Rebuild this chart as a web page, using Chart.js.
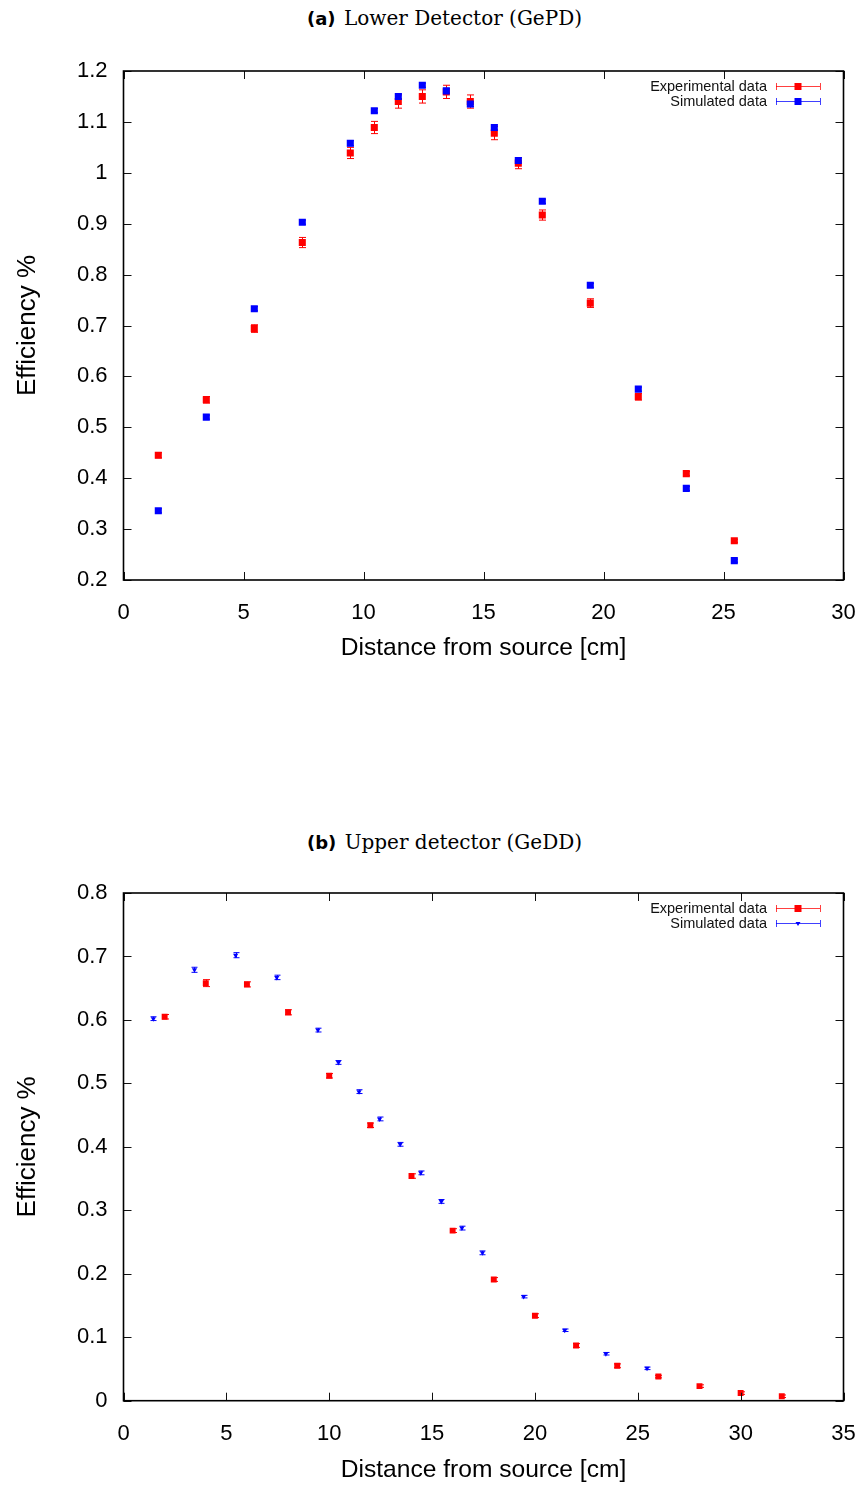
<!DOCTYPE html>
<html lang="en">
<head>
<meta charset="UTF-8">
<title>Detector efficiency</title>
<script src="https://cdn.jsdelivr.net/npm/chart.js@4.4.1/dist/chart.umd.min.js"></script>
<style>
  body { margin: 0; background: #fff; width: 865px; height: 1488px; position: relative; overflow: hidden; }
  .cap { position: absolute; left: 12px; width: 865px; text-align: center; font-family: "DejaVu Serif", serif; font-size: 20px; line-height: 22px; color: #000; }
  .cap b { font-family: "DejaVu Sans", sans-serif; font-weight: bold; font-size: 18px; margin-right: 2px; }
  canvas { position: absolute; left: 0; }
</style>
</head>
<body>
<div class="cap" style="top:7px"><b>(a)</b> Lower Detector (GePD)</div>
<canvas id="chartA" width="865" height="680" style="top:0"></canvas>
<div class="cap" style="top:831px"><b>(b)</b> Upper detector (GeDD)</div>
<canvas id="chartB" width="865" height="744" style="top:744px"></canvas>
<script>
// (a) lower detector - both series share the same distances
const xA = [1.45, 3.45, 5.45, 7.45, 9.45, 10.45, 11.45, 12.45, 13.45, 14.45, 15.45, 16.45, 17.45, 19.45, 21.45, 23.45, 25.45];
const expA = [0.445, 0.554, 0.694, 0.863, 1.039, 1.089, 1.140, 1.150, 1.159, 1.140, 1.078, 1.019, 0.917, 0.744, 0.560, 0.409, 0.277];
const expAErr = [0.005, 0.0065, 0.0075, 0.010, 0.011, 0.012, 0.013, 0.013, 0.013, 0.013, 0.013, 0.011, 0.010, 0.0085, 0.0065, 0.004, 0.003];
const simA = [0.336, 0.520, 0.733, 0.903, 1.058, 1.122, 1.150, 1.172, 1.161, 1.135, 1.089, 1.024, 0.944, 0.779, 0.575, 0.380, 0.238];
const simAErr = [0.004, 0.004, 0.004, 0.004, 0.005, 0.004, 0.005, 0.004, 0.005, 0.005, 0.005, 0.005, 0.004, 0.004, 0.004, 0.004, 0.003];

// (b) upper detector
const xBExp = [2, 4, 6, 8, 10, 12, 14, 16, 18, 20, 22, 24, 26, 28, 30, 32];
const expB = [0.605, 0.658, 0.656, 0.612, 0.512, 0.434, 0.354, 0.268, 0.191, 0.134, 0.087, 0.055, 0.038, 0.023, 0.012, 0.007];
const expBErr = [0.0035, 0.0055, 0.004, 0.004, 0.0035, 0.0035, 0.0035, 0.003, 0.003, 0.003, 0.003, 0.003, 0.002, 0.002, 0.002, 0.002];
const xBSim = [1.45, 3.45, 5.45, 7.45, 9.45, 10.45, 11.45, 12.45, 13.45, 14.45, 15.45, 16.45, 17.45, 19.45, 21.45, 23.45, 25.45];
const simB = [0.602, 0.679, 0.702, 0.667, 0.584, 0.533, 0.487, 0.444, 0.404, 0.359, 0.314, 0.272, 0.233, 0.164, 0.111, 0.074, 0.051];
const simBErr = [0.003, 0.004, 0.004, 0.0035, 0.003, 0.003, 0.003, 0.003, 0.003, 0.003, 0.003, 0.003, 0.003, 0.002, 0.002, 0.002, 0.002];

const legendLabels = ['Experimental data', 'Simulated data'];

Chart.defaults.font.family = '"Liberation Sans", Arial, sans-serif';
Chart.defaults.color = '#000';

function pts(xs, ys) {
  return xs.map((x, i) => ({ x: x, y: ys[i] }));
}

function marker(ctx, style, x, y, r) {
  ctx.beginPath();
  if (style === 'triangle') {
    ctx.moveTo(x - r, y - r * 0.6);
    ctx.lineTo(x + r, y - r * 0.6);
    ctx.lineTo(x, y + r);
    ctx.closePath();
  } else {
    ctx.rect(x - r, y - r, 2 * r, 2 * r);
  }
  ctx.fill();
}

// gnuplot look: error bars, framed box with inward ticks, legend top right
const gnuFrame = {
  id: 'gnuFrame',
  beforeDatasetsDraw(chart) {
    const ctx = chart.ctx, xs = chart.scales.x, ys = chart.scales.y;
    ctx.save();
    ctx.lineWidth = 1;
    chart.data.datasets.forEach(ds => {
      ctx.strokeStyle = ds.borderColor;
      ds.data.forEach((p, j) => {
        const e = ds.errors[j];
        const px = Math.round(xs.getPixelForValue(p.x)) + 0.5;
        const y1 = ys.getPixelForValue(p.y + e), y2 = ys.getPixelForValue(p.y - e);
        const c = ds.capHalf;
        ctx.beginPath();
        ctx.moveTo(px, y1); ctx.lineTo(px, y2);
        ctx.moveTo(px - c, y1); ctx.lineTo(px + c, y1);
        ctx.moveTo(px - c, y2); ctx.lineTo(px + c, y2);
        ctx.stroke();
      });
    });
    ctx.restore();
  },
  afterDraw(chart) {
    const ctx = chart.ctx, a = chart.chartArea;
    const xs = chart.scales.x, ys = chart.scales.y;
    ctx.save();
    ctx.strokeStyle = '#111';
    ctx.lineWidth = 1;
    ctx.beginPath();
    xs.ticks.forEach(t => {
      const px = Math.round(xs.getPixelForValue(t.value)) + 0.5;
      ctx.moveTo(px, a.bottom); ctx.lineTo(px, a.bottom - 8);
      ctx.moveTo(px, a.top); ctx.lineTo(px, a.top + 8);
    });
    ys.ticks.forEach(t => {
      const py = Math.round(ys.getPixelForValue(t.value)) + 0.5;
      ctx.moveTo(a.left, py); ctx.lineTo(a.left + 8, py);
      ctx.moveTo(a.right, py); ctx.lineTo(a.right - 8, py);
    });
    ctx.stroke();
    ctx.lineWidth = 1.6;
    ctx.strokeStyle = '#000';
    ctx.strokeRect(a.left, a.top, a.right - a.left, a.bottom - a.top);

    // legend
    const lg = chart.options.plugins.gnuFrame;
    ctx.font = '14.5px "Liberation Sans", Arial, sans-serif';
    ctx.textAlign = 'right';
    ctx.textBaseline = 'middle';
    chart.data.datasets.forEach((ds, i) => {
      const y = Math.round(lg.y + i * 15) + 0.5;
      ctx.fillStyle = '#111';
      ctx.fillText(legendLabels[i], 767, y);
      ctx.strokeStyle = ds.borderColor;
      ctx.globalAlpha = 0.75;
      ctx.lineWidth = 1;
      ctx.beginPath();
      ctx.moveTo(776, y); ctx.lineTo(820, y);
      ctx.moveTo(776.5, y - 3.5); ctx.lineTo(776.5, y + 3.5);
      ctx.moveTo(820.5, y - 3.5); ctx.lineTo(820.5, y + 3.5);
      ctx.stroke();
      ctx.globalAlpha = 1;
      ctx.fillStyle = ds.backgroundColor;
      marker(ctx, ds.legendMarker, 798, y, ds.legendMarker === 'triangle' ? 2.5 : 3.5);
    });
    ctx.restore();
  }
};

function makeChart(id, cfg) {
  return new Chart(document.getElementById(id), {
    type: 'scatter',
    data: { datasets: cfg.datasets },
    options: {
      responsive: false,
      animation: false,
      events: [],
      layout: { padding: { top: cfg.padTop, right: 865 - 843.5, bottom: 0, left: 0 } },
      plugins: { legend: { display: false }, tooltip: { enabled: false }, gnuFrame: { y: cfg.legendY } },
      scales: {
        x: {
          type: 'linear', min: 0, max: cfg.xMax,
          grid: { display: false, drawTicks: false },
          border: { display: false },
          ticks: { stepSize: 5, padding: 20, font: { size: 22 }, color: '#000' },
          title: { display: true, text: 'Distance from source [cm]', font: { size: 24.6 }, color: '#000', padding: { top: 0, bottom: cfg.xTitlePad } },
          afterFit(s) { s.height = cfg.xAxisH; s.paddingLeft = 0; s.paddingRight = 0; }
        },
        y: {
          type: 'linear', min: cfg.yMin, max: cfg.yMax,
          grid: { display: false, drawTicks: false },
          border: { display: false },
          ticks: { stepSize: 0.1, padding: 16, font: { size: 22 }, color: '#000',
                   callback: v => String(+v.toFixed(2)) },
          title: { display: true, text: 'Efficiency %', font: { size: 26 }, color: '#000', padding: { top: 12, bottom: 0 } },
          afterFit(s) { s.width = 123.5; s.paddingTop = 0; s.paddingBottom = 0; }
        }
      }
    },
    plugins: [gnuFrame]
  });
}

makeChart('chartA', {
  padTop: 71, xAxisH: 100, xTitlePad: 17, xMax: 30, yMin: 0.2, yMax: 1.2, legendY: 86,
  datasets: [
    { label: legendLabels[0], data: pts(xA, expA), errors: expAErr, capHalf: 3.5, legendMarker: 'rect',
      backgroundColor: '#ff0000', borderColor: '#ff0000', pointStyle: 'rect', pointRadius: 5, pointBorderWidth: 0, showLine: false, order: 1 },
    { label: legendLabels[1], data: pts(xA, simA), errors: simAErr, capHalf: 3.5, legendMarker: 'rect',
      backgroundColor: '#0000ff', borderColor: '#0000ff', pointStyle: 'rect', pointRadius: 5, pointBorderWidth: 0, showLine: false, order: 0 }
  ]
});

makeChart('chartB', {
  padTop: 149, xAxisH: 87.3, xTitlePad: 3, xMax: 35, yMin: 0, yMax: 0.8, legendY: 907.5 - 744,
  datasets: [
    { label: legendLabels[0], data: pts(xBExp, expB), errors: expBErr, capHalf: 3.5, legendMarker: 'rect',
      backgroundColor: '#ff0000', borderColor: '#ff0000', pointStyle: 'rect', pointRadius: 4.2, pointBorderWidth: 0, showLine: false, order: 0 },
    { label: legendLabels[1], data: pts(xBSim, simB), errors: simBErr, capHalf: 3, legendMarker: 'triangle',
      backgroundColor: '#0000ff', borderColor: '#0000ff', pointStyle: 'triangle', rotation: 180, pointRadius: 3, pointBorderWidth: 0, showLine: false, order: 1 }
  ]
});
</script>
</body>
</html>
